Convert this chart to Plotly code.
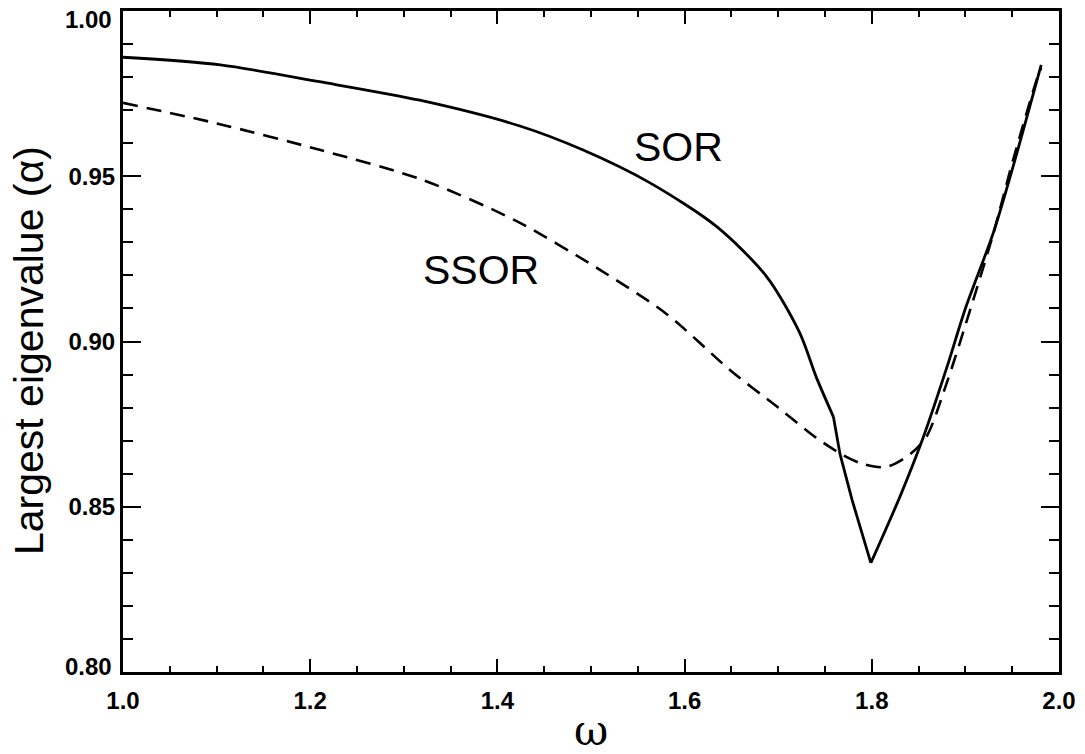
import plotly.graph_objects as go

# SOR curve (omega, largest eigenvalue), read in three pieces
omega_sor_low = [1.000, 1.104, 1.210, 1.317, 1.424, 1.491, 1.563, 1.635, 1.688, 1.723,
                 1.741, 1.759]
alpha_sor_low = [0.9860, 0.9837, 0.9786, 0.9730, 0.9652, 0.9580, 0.9480, 0.9346, 0.9195,
                 0.9026, 0.8890, 0.8772]
omega_sor_mid = [1.759, 1.766, 1.779, 1.799]
alpha_sor_mid = [0.8772, 0.8660, 0.8520, 0.8330]
omega_sor_high = [1.799, 1.83, 1.855, 1.88, 1.90, 1.93, 1.95, 1.981]
alpha_sor_high = [0.8330, 0.8530, 0.8710, 0.8920, 0.9100, 0.9330, 0.9520, 0.9837]

# SSOR curve
omega_ssor = [1.00, 1.10, 1.21, 1.32, 1.42, 1.51, 1.58, 1.65, 1.70, 1.74, 1.77, 1.79,
              1.815, 1.84, 1.858, 1.88, 1.905, 1.93, 1.951, 1.976, 1.981]
alpha_ssor = [0.9722, 0.9660, 0.9580, 0.9489, 0.9365, 0.9216, 0.9085, 0.8910, 0.8800,
              0.8710, 0.8655, 0.8630, 0.8620, 0.8657, 0.8710, 0.8874, 0.9095, 0.9328,
              0.9550, 0.9790, 0.9827]

x_ticks = [1.0, 1.2, 1.4, 1.6, 1.8, 2.0]
x_labels = ["1.0", "1.2", "1.4", "1.6", "1.8", "2.0"]
y_ticks = [0.80, 0.85, 0.90, 0.95, 1.00]
y_labels = ["0.80", "0.85", "0.90", "0.95", "1.00"]

fig = go.Figure()
fig.add_trace(go.Scatter(x=omega_sor_low, y=alpha_sor_low, mode="lines",
                         line=dict(color="black", width=2.8, shape="spline", smoothing=0.8)))
fig.add_trace(go.Scatter(x=omega_sor_mid, y=alpha_sor_mid, mode="lines",
                         line=dict(color="black", width=2.8, shape="linear")))
fig.add_trace(go.Scatter(x=omega_sor_high, y=alpha_sor_high, mode="lines",
                         line=dict(color="black", width=2.8, shape="spline", smoothing=0.8)))
fig.add_trace(go.Scatter(x=omega_ssor, y=alpha_ssor, mode="lines",
                         line=dict(color="black", width=2.6, dash="15px,9px",
                                   shape="spline", smoothing=0.8)))

label_font = dict(family="Liberation Sans, Arial", size=41, color="black")
fig.add_annotation(x=1.593, y=0.9589, text="SOR", showarrow=False, font=label_font)
fig.add_annotation(x=1.382, y=0.9216, text="SSOR", showarrow=False, font=label_font)

fig.add_annotation(xref="paper", yref="paper", x=-0.1005, y=0.487,
                   text="Largest eigenvalue (α)", textangle=-90, showarrow=False,
                   xanchor="center", yanchor="middle", borderpad=0,
                   font=dict(family="Liberation Sans, Arial", size=41, color="black"))
fig.add_annotation(xref="paper", yref="paper", x=0.5, y=-0.089,
                   text="ω", showarrow=False, xanchor="center", yanchor="middle",
                   borderpad=0,
                   font=dict(family="DejaVu Serif", size=42, color="black"))

tick_font = dict(family="Liberation Sans, Arial", size=24, color="black", weight="bold")

# end labels of the y axis sit just inside the frame, as in the reference
y_tick_text = [lab if v not in (y_ticks[0], y_ticks[-1]) else "" for v, lab in zip(y_ticks, y_labels)]
fig.add_annotation(xref="paper", yref="y", x=0, y=y_ticks[-1], text=y_labels[-1],
                   showarrow=False, xanchor="right", yanchor="middle",
                   xshift=-10, yshift=-8, borderpad=0, font=tick_font)
fig.add_annotation(xref="paper", yref="y", x=0, y=y_ticks[0], text=y_labels[0],
                   showarrow=False, xanchor="right", yanchor="middle",
                   xshift=-10, yshift=6, borderpad=0, font=tick_font)

fig.update_xaxes(range=[1.0, 2.0], tickvals=x_ticks, ticktext=x_labels,
                 ticks="inside", ticklen=13, tickwidth=2, tickcolor="black",
                 showline=True, linecolor="black", linewidth=3, mirror="allticks",
                 showgrid=False, zeroline=False, ticklabelstandoff=5, automargin=False,
                 ticklabeloverflow="allow", tickfont=tick_font,
                 minor=dict(dtick=0.05, tick0=1.0, ticks="inside", ticklen=6,
                            tickwidth=2, tickcolor="black", showgrid=False))
fig.update_yaxes(range=[0.80, 1.00], tickvals=y_ticks, ticktext=y_tick_text,
                 ticks="inside", ticklen=18, tickwidth=2, tickcolor="black",
                 showline=True, linecolor="black", linewidth=3, mirror="allticks",
                 showgrid=False, zeroline=False, ticklabelstandoff=0, automargin=False,
                 ticklabeloverflow="allow", tickfont=tick_font,
                 minor=dict(dtick=0.01, tick0=0.8, ticks="inside", ticklen=10,
                            tickwidth=2, tickcolor="black", showgrid=False))

fig.update_layout(width=1085, height=754, showlegend=False,
                  plot_bgcolor="white", paper_bgcolor="white",
                  margin=dict(l=123, r=26, t=11, b=82))

# remove the page's default body margin so the figure fills the window exactly
fig.write_html("out.html", config={"displayModeBar": False},
               post_script="document.body.style.margin='0';document.body.style.overflow='hidden';")
